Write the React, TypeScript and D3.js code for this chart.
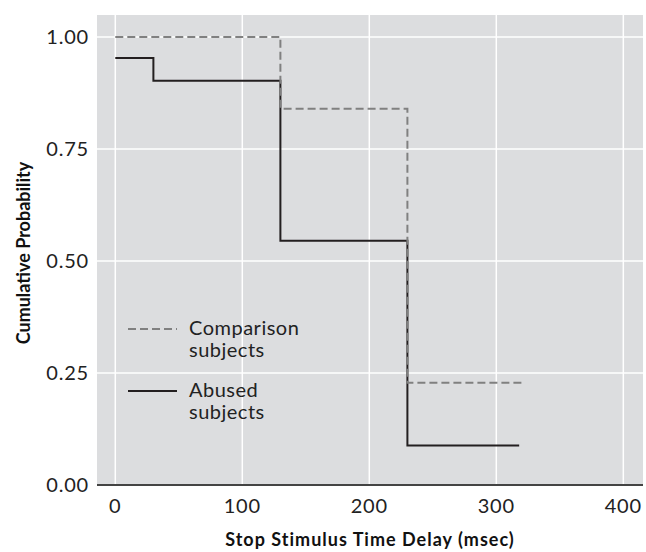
import React, { useRef, useEffect } from 'react';
import * as d3 from 'd3';

// step curves: delay (msec) -> cumulative probability
const comparisonTimes = [0, 130, 230, 320];
const comparisonProbs = [1.0, 0.84, 0.228, 0.228];
const abusedTimes = [0, 30, 130, 230, 318];
const abusedProbs = [0.953, 0.902, 0.545, 0.088, 0.088];

const xTicks = [0, 100, 200, 300, 400];
const yTicks = [0, 0.25, 0.5, 0.75, 1.0];

const legendLabels = [
  ['Comparison', 'subjects'],
  ['Abused', 'subjects'],
];

const FONT = 'Lato, "Open Sans", sans-serif';

const App = () => {
  const svgRef = useRef<SVGSVGElement>(null);

  useEffect(() => {
    const svg = d3.select(svgRef.current);
    svg.selectAll('*').remove();

    const width = 646;
    const height = 552;
    const margin = { top: 15, right: 3, bottom: 67, left: 97 };

    const x = d3.scaleLinear()
      .domain([-14.4, 415.5])
      .range([margin.left, width - margin.right]);

    const y = d3.scaleLinear()
      .domain([0, 1.049])
      .range([height - margin.bottom, margin.top]);

    // panel
    svg.append('rect')
      .attr('x', margin.left)
      .attr('y', margin.top)
      .attr('width', width - margin.right - margin.left)
      .attr('height', height - margin.bottom - margin.top)
      .attr('fill', '#dcdddf');

    // grid
    svg.append('g')
      .selectAll('line')
      .data(xTicks)
      .join('line')
      .attr('x1', d => x(d))
      .attr('x2', d => x(d))
      .attr('y1', margin.top)
      .attr('y2', height - margin.bottom)
      .attr('stroke', '#fff')
      .attr('stroke-width', 1.5);

    svg.append('g')
      .selectAll('line')
      .data(yTicks.filter(d => d > 0))
      .join('line')
      .attr('x1', margin.left)
      .attr('x2', width - margin.right)
      .attr('y1', d => y(d))
      .attr('y2', d => y(d))
      .attr('stroke', '#fff')
      .attr('stroke-width', 1.5);

    // x axis line
    svg.append('line')
      .attr('x1', margin.left)
      .attr('x2', width - margin.right)
      .attr('y1', y(0))
      .attr('y2', y(0))
      .attr('stroke', '#444')
      .attr('stroke-width', 2);

    // tick labels
    svg.append('g')
      .selectAll('text')
      .data(xTicks)
      .join('text')
      .attr('x', d => x(d))
      .attr('y', y(0) + 28)
      .attr('text-anchor', 'middle')
      .attr('font-family', FONT)
      .attr('font-size', 20)
      .attr('letter-spacing', 0.8)
      .attr('fill', '#222')
      .text(d => d3.format('d')(d));

    svg.append('g')
      .selectAll('text')
      .data(yTicks)
      .join('text')
      .attr('x', margin.left - 8)
      .attr('y', d => y(d) + 7)
      .attr('text-anchor', 'end')
      .attr('font-family', FONT)
      .attr('font-size', 20)
      .attr('letter-spacing', 0.8)
      .attr('fill', '#222')
      .text(d => d3.format('.2f')(d));

    // axis titles
    svg.append('text')
      .attr('x', 370)
      .attr('y', 546)
      .attr('text-anchor', 'middle')
      .attr('font-family', FONT)
      .attr('font-weight', 'bold')
      .attr('font-size', 18)
      .attr('letter-spacing', 1)
      .attr('fill', '#111')
      .text('Stop Stimulus Time Delay (msec)');

    svg.append('text')
      .attr('transform', 'translate(30,253) rotate(-90)')
      .attr('text-anchor', 'middle')
      .attr('font-family', FONT)
      .attr('font-weight', 'bold')
      .attr('font-size', 18)
      .attr('fill', '#111')
      .text('Cumulative Probability');

    const step = d3.line<[number, number]>()
      .x(d => x(d[0]))
      .y(d => y(d[1]))
      .curve(d3.curveStepAfter);

    const abused = abusedTimes.map((t, i) => [t, abusedProbs[i]] as [number, number]);
    const comparison = comparisonTimes.map((t, i) => [t, comparisonProbs[i]] as [number, number]);

    svg.append('path')
      .attr('d', step(abused))
      .attr('fill', 'none')
      .attr('stroke', '#231f20')
      .attr('stroke-width', 2);

    svg.append('path')
      .attr('d', step(comparison))
      .attr('fill', 'none')
      .attr('stroke', '#808080')
      .attr('stroke-width', 2)
      .attr('stroke-dasharray', '8,4');

    // legend
    const legend = svg.append('g');
    const styles = [
      { stroke: '#808080', dash: '8,4' },
      { stroke: '#231f20', dash: null },
    ];
    const rowY = [329, 391];
    legendLabels.forEach((lines, i) => {
      legend.append('line')
        .attr('x1', 128)
        .attr('x2', 177)
        .attr('y1', rowY[i])
        .attr('y2', rowY[i])
        .attr('stroke', styles[i].stroke)
        .attr('stroke-width', 2)
        .attr('stroke-dasharray', styles[i].dash);
      const t = legend.append('text')
        .attr('x', 189)
        .attr('y', rowY[i] + 6)
        .attr('font-family', FONT)
        .attr('font-size', 20)
        .attr('letter-spacing', 0.5)
        .attr('fill', '#222');
      lines.forEach((s, j) => {
        t.append('tspan')
          .attr('x', 189)
          .attr('dy', j === 0 ? 0 : 22)
          .text(s);
      });
    });
  }, []);

  return (
    <svg
      ref={svgRef}
      width={646}
      height={552}
      style={{ position: 'absolute', left: 0, top: 0, background: '#fff' }}
    />
  );
};

export default App;
